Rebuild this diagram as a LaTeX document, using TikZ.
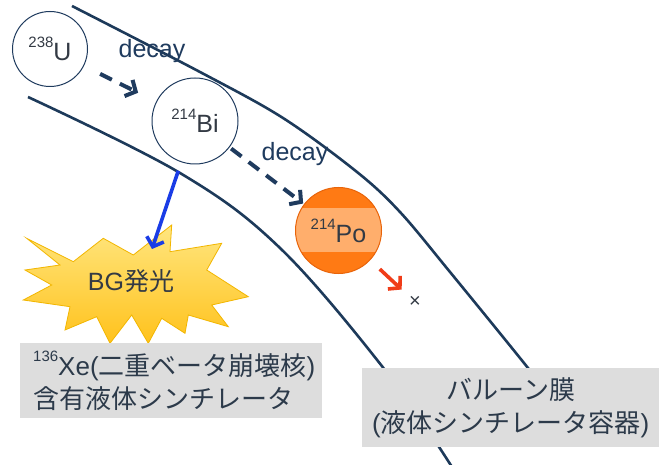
\documentclass[tikz,border=0pt]{standalone}
\usepackage{fontspec}
\setmainfont{Liberation Sans}
\newfontfamily\jpfont{Noto Sans CJK JP}
\usetikzlibrary{arrows.meta,calc}

\definecolor{wallc}{HTML}{1D3A5A}
\definecolor{decayc}{HTML}{1F3B5E}
\definecolor{labelc}{HTML}{2C3A4A}
\definecolor{nucc}{HTML}{333A44}
\definecolor{boxc}{HTML}{DDDDDD}
\definecolor{poc}{HTML}{FF7A14}
\definecolor{poband}{HTML}{FFAE6C}
\definecolor{poedge}{HTML}{E8640A}
\definecolor{rayblue}{HTML}{1A3CE6}
\definecolor{rayred}{HTML}{F03C18}
\definecolor{startop}{HTML}{FFE680}
\definecolor{starbot}{HTML}{FFC21C}
\definecolor{staredge}{HTML}{F2B600}

% isotope with its mass number as a raised prefix
\newcommand\nuclide[2]{\raisebox{0.52em}{\fontsize{15}{15}\selectfont #1}#2}

\begin{document}
\begin{tikzpicture}[x=1pt,y=-1pt,
  wall/.style={draw=wallc,line width=2.6pt},
  nucleus/.style={circle,draw=decayc,line width=1pt,inner sep=0pt,
    text=nucc,font=\fontsize{25}{25}\selectfont},
  decaylbl/.style={text=decayc,font=\fontsize{25}{25}\selectfont,inner sep=0pt},
  decayarrow/.style={draw=decayc,line width=4pt,dash pattern=on 13pt off 9pt,
    -{Straight Barb[length=8pt,width=18pt]}},
  ray/.style={line width=3.6pt,-{Straight Barb[length=8pt,width=18pt]}},
  graybox/.style={fill=boxc,inner ysep=0pt,text=labelc,
    font=\fontsize{26}{33}\selectfont},
]
\useasboundingbox (0,0) rectangle (659,465);
\fill[white] (0,0) rectangle (659,465);

% balloon film: the two walls of the membrane
\draw[wall] plot[smooth,tension=0.55] coordinates
  {(72,6) (200,72) (283,118) (357,172) (400,212) (450,272) (528,368) (548,395)};
\draw[wall] plot[smooth,tension=0.6] coordinates
  {(28,97) (180,173) (280,248) (385,370) (452,467)};

% decay chain
\node[nucleus,minimum size=75pt] (u) at (50,49) {\nuclide{238}{U}};
\node[nucleus,minimum size=86pt] (bi) at (195,121) {\nuclide{214}{Bi}};
\node[circle,draw=poedge,line width=1pt,fill=poc,inner sep=0pt,minimum size=86pt,
  text=nucc,font=\fontsize{25}{25}\selectfont,
  path picture={\fill[poband]
    ($(path picture bounding box.west)+(0,-22)$) rectangle
    ($(path picture bounding box.east)+(0,22)$);}]
  (po) at (338.5,230.5) {\nuclide{214}{Po}};

\node[decaylbl] (d1) at (152,51) {decay};
\node[decaylbl] (d2) at (295,154) {decay};

\draw[decayarrow,shorten <=18pt,shorten >=20pt] (u) -- (bi);
\draw[decayarrow,shorten <=2pt,shorten >=1pt] (bi) -- (po);

% scintillation burst
\shade[top color=startop,bottom color=starbot,draw=staredge,line width=0.8pt]
  (26.7,238.3) -- (73.3,261.7) -- (103.3,238.3) -- (133.3,255) -- (171.7,225)
  -- (170,251.7) -- (221.7,243.3) -- (206.7,270) -- (248.3,296.7) -- (211.7,305)
  -- (228.3,326.7) -- (188.3,315) -- (185,333.3) -- (161.7,318.3) -- (148.3,343.3)
  -- (131.7,315) -- (110,343.3) -- (96.7,316.7) -- (65,330) -- (70,306.7)
  -- (23.3,300) -- (51.7,285) -- (25,270) -- (60,265) -- cycle;
\node[text=nucc,font=\fontsize{25}{25}\selectfont] (bg) at (131,281) {BG{\jpfont 発光}};
\coordinate (bgtip) at (152,249);
\draw[ray,draw=rayblue,shorten <=9pt] (bi) -- (bgtip);

% alpha from polonium
\node[text=nucc,font=\fontsize{20}{20}\selectfont,inner sep=0pt] (xm) at (415,302) {×};
\draw[ray,draw=rayred,shorten <=13pt,shorten >=10pt] (po) -- (xm);

% captions
\node[graybox,anchor=north west,minimum width=302pt,minimum height=75pt,
  inner xsep=13pt,text width=276pt,align=left] (xebox) at (20,343)
  {\nuclide{136}{Xe}({\jpfont 二重ベータ崩壊核})\\{\jpfont 含有液体シンチレータ}};
\node[graybox,anchor=north west,minimum width=297pt,minimum height=79pt,
  inner xsep=0pt,text width=297pt,align=center] (filmbox) at (362,368)
  {{\jpfont バルーン膜}\\({\jpfont 液体シンチレータ容器})};
\end{tikzpicture}
\end{document}
